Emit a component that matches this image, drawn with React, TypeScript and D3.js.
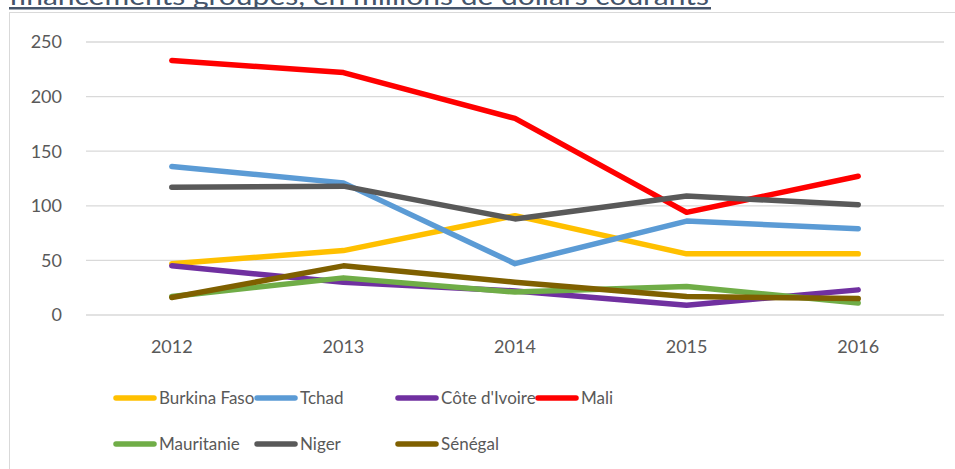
import React from "react";
import * as d3 from "d3";

const years = ["2012", "2013", "2014", "2015", "2016"];
const yTicks = [0, 50, 100, 150, 200, 250];

const seriesNames = ["Burkina Faso", "Tchad", "Côte d'Ivoire", "Mali", "Mauritanie", "Niger", "Sénégal"];
const seriesColors = ["#FFC000", "#5B9BD5", "#7030A0", "#FF0000", "#70AD47", "#595959", "#7F6000"];

const burkinaFaso = [47, 59, 91, 56, 56];
const tchad = [136, 121, 47, 86, 79];
const coteIvoire = [45, 30, 22, 9, 23];
const mali = [233, 222, 180, 94, 127];
const mauritanie = [17, 34, 21, 26, 11];
const niger = [117, 118, 88, 109, 101];
const senegal = [16, 45, 30, 17, 15];

const seriesValues = [burkinaFaso, tchad, coteIvoire, mali, mauritanie, niger, senegal];
const drawOrder = [0, 1, 2, 3, 4, 5, 6];

const titleText = "financements groupés, en millions de dollars courants";

const W = 955;
const H = 469;
const FONT = "Lato, 'Open Sans', sans-serif";
const TEXT = "#595959";

export default function App() {
  const x = d3.scalePoint<string>().domain(years).range([86, 944]).padding(0.5);
  const y = d3.scaleLinear().domain([0, 250]).range([315, 42]);
  const line = d3
    .line<number>()
    .x((_, i) => x(years[i]) as number)
    .y((d) => y(d));

  const legendPos = [
    { lx: 116, ly: 398 },
    { lx: 257, ly: 398 },
    { lx: 398, ly: 398 },
    { lx: 538, ly: 398 },
    { lx: 116, ly: 444 },
    { lx: 257, ly: 444 },
    { lx: 398, ly: 444 },
  ];

  return (
    <svg
      width={W}
      height={H}
      style={{ position: "absolute", left: 0, top: 0, background: "#fff" }}
      fontFamily={FONT}
    >
      <rect x={9.5} y={12.5} width={W} height={H} fill="#fff" stroke="#d9d9d9" strokeWidth={1} />
      <text x={9} y={5} fontSize={25} fill="#44546A" textLength={700} lengthAdjust="spacingAndGlyphs">
        {titleText}
      </text>
      <rect x={9} y={7} width={702} height={2.5} fill="#44546A" />

      {yTicks.map((t) => (
        <g key={t}>
          <line x1={86} x2={944} y1={y(t)} y2={y(t)} stroke="#d9d9d9" strokeWidth={1.3} />
          <text x={62} y={y(t)} dy="0.35em" textAnchor="end" fontSize={18} fill={TEXT}>
            {t}
          </text>
        </g>
      ))}

      {years.map((yr) => (
        <text key={yr} x={x(yr)} y={353} textAnchor="middle" fontSize={18} fill={TEXT}>
          {yr}
        </text>
      ))}

      {drawOrder.map((i) => (
        <path
          key={seriesNames[i]}
          d={line(seriesValues[i]) || ""}
          fill="none"
          stroke={seriesColors[i]}
          strokeWidth={5.5}
          strokeLinecap="round"
          strokeLinejoin="round"
        />
      ))}

      {seriesNames.map((name, i) => (
        <g key={name}>
          <line
            x1={legendPos[i].lx}
            x2={legendPos[i].lx + 38}
            y1={legendPos[i].ly}
            y2={legendPos[i].ly}
            stroke={seriesColors[i]}
            strokeWidth={5.5}
            strokeLinecap="round"
          />
          <text x={legendPos[i].lx + 43} y={legendPos[i].ly} dy="0.35em" fontSize={17} fill={TEXT}>
            {name}
          </text>
        </g>
      ))}
    </svg>
  );
}
